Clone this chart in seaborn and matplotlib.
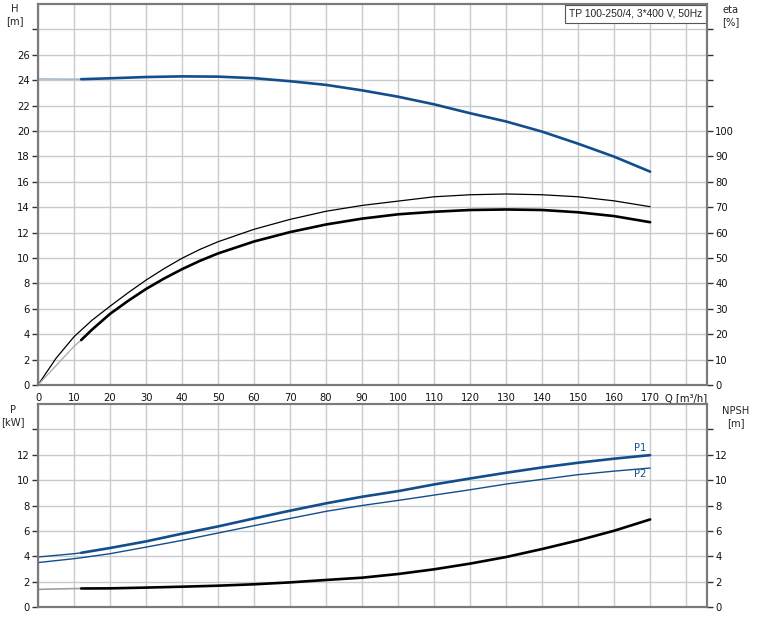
import numpy as np
import pandas as pd
import matplotlib
matplotlib.use("Agg")
import matplotlib.pyplot as plt
import seaborn as sns

# flow rate grid [m3/h]
q = [12, 20, 30, 40, 50, 60, 70, 80, 90, 100, 110, 120, 130, 140, 150, 160, 170]
q_start = [0, 10, 12]

# head H [m]
h_start = [24.1, 24.08, 24.08]
h = [24.08, 24.15, 24.25, 24.3, 24.28, 24.16, 23.92, 23.63, 23.2, 22.7,
     22.1, 21.4, 20.75, 19.95, 19.0, 17.98, 16.8]

# efficiency eta [%]  (upper thin curve and lower thick curve)
q_eta_up = [0, 5, 10, 15, 20, 25, 30, 35, 40, 45, 50, 60, 70, 80, 90, 100,
            110, 120, 130, 140, 150, 160, 170]
eta_up = [0, 10.5, 19, 25.5, 31, 36.3, 41.3, 45.8, 49.9, 53.4, 56.4, 61.3, 65.2,
          68.4, 70.7, 72.4, 74.1, 74.9, 75.2, 74.9, 74.1, 72.5, 70.2]
q_eta = [12, 15, 20, 25, 30, 35, 40, 45, 50, 60, 70, 80, 90, 100, 110, 120,
         130, 140, 150, 160, 170]
eta_start = [0, 15.2, 17.7]
eta = [17.7, 21.8, 28, 33.1, 37.8, 41.9, 45.6, 48.9, 51.8, 56.5, 60.2, 63.2,
       65.5, 67.2, 68.2, 68.9, 69.1, 68.9, 68.0, 66.5, 64.1]

# power P1, P2 [kW]
p1_start = [3.94, 4.2, 4.27]
p1 = [4.27, 4.65, 5.17, 5.78, 6.35, 6.98, 7.59, 8.17, 8.69, 9.13, 9.66,
      10.13, 10.58, 11.0, 11.37, 11.69, 11.97]
q_p2 = [0, 10] + q
p2 = [3.5, 3.81, 3.88, 4.2, 4.72, 5.25, 5.83, 6.41, 6.98, 7.54, 8.0, 8.4, 8.82,
      9.24, 9.69, 10.06, 10.43, 10.71, 10.95]

# NPSH [m]
npsh_start = [1.39, 1.45, 1.46]
npsh = [1.46, 1.47, 1.53, 1.6, 1.68, 1.79, 1.94, 2.13, 2.31, 2.6, 2.97,
        3.42, 3.94, 4.57, 5.25, 6.01, 6.9]

blue = "#124e8c"
grid_c = "#c8cbce"
spine_c = "#7a7a7a"
fs = 7.2

sns.set_style("white")
plt.rcParams["font.family"] = ["DejaVu Sans"]

fig = plt.figure(figsize=(7.59, 6.24), dpi=100)
ax = fig.add_axes([38/759, 1-385/624, 669/759, 381/624])
axb = fig.add_axes([38/759, 1-607/624, 669/759, 203/624])
ax2 = ax.twinx()
axb2 = axb.twinx()

xlim = (0, 185.8)

def style(a, ymax, yticks, ylabels):
    a.set_xlim(*xlim)
    a.set_ylim(0, ymax)
    a.set_xticks(np.arange(0, 190, 10))
    a.set_yticks(yticks)
    a.set_yticklabels(ylabels)
    a.tick_params(axis="both", direction="out", length=4, width=1,
                  color="#333333", labelsize=fs, pad=2, labelcolor="#111111")
    for s in a.spines.values():
        s.set_color(spine_c)
        s.set_linewidth(1.5)
    a.set_xlabel("")
    a.set_ylabel("")

# top panel
ax.grid(True, color=grid_c, linewidth=1)
ax.set_axisbelow(True)
sns.lineplot(x=q_start, y=h_start, ax=ax, color="#a8b8cc", linewidth=1.2)
sns.lineplot(x=q, y=h, ax=ax, color=blue, linewidth=1.9)
style(ax, 30, np.arange(0, 30, 2),
      [str(v) if v <= 26 else "" for v in range(0, 30, 2)])
ax.set_xticklabels([str(v) for v in range(0, 180, 10)] + ["Q [m\u00b3/h]"])

sns.lineplot(x=q_eta_up, y=eta_up, ax=ax2, color="black", linewidth=0.9)
sns.lineplot(x=q_start, y=eta_start, ax=ax2, color="#b0b0b0", linewidth=1.0)
sns.lineplot(x=q_eta, y=eta, ax=ax2, color="black", linewidth=1.9)
style(ax2, 150, np.arange(0, 150, 10),
      [str(v) if v <= 100 else "" for v in range(0, 150, 10)])
ax2.grid(False)

ax.annotate("TP 100-250/4, 3*400 V, 50Hz", xy=(1.0, 1.0), xycoords="axes fraction",
            xytext=(-3.5, -3.5), textcoords="offset points",
            ha="right", va="top", fontsize=7.4, zorder=10, family="Liberation Sans",
            bbox=dict(boxstyle="square,pad=0.4", fc="white", ec="#555555", lw=0.8))

# bottom panel
axb.grid(True, color=grid_c, linewidth=1)
axb.set_axisbelow(True)
sns.lineplot(x=q_start, y=p1_start, ax=axb, color=blue, linewidth=1.0)
sns.lineplot(x=q, y=p1, ax=axb, color=blue, linewidth=1.9)
sns.lineplot(x=q_p2, y=p2, ax=axb, color=blue, linewidth=1.0)
sns.lineplot(x=q_start, y=npsh_start, ax=axb, color="#a0a0a0", linewidth=1.2)
sns.lineplot(x=q, y=npsh, ax=axb, color="black", linewidth=1.9)
style(axb, 16, np.arange(0, 16, 2),
      [str(v) if v <= 12 else "" for v in range(0, 16, 2)])
axb.set_xticklabels([])
axb.text(167.2, 12.5, "P1", ha="center", va="center", fontsize=fs, color=blue)
axb.text(167.2, 10.45, "P2", ha="center", va="center", fontsize=fs, color=blue)

style(axb2, 16, np.arange(0, 16, 2),
      [str(v) if v <= 12 else "" for v in range(0, 16, 2)])
axb2.grid(False)

# axis titles
fig.text(15/759, 1-15/624, "H\n[m]", ha="center", va="center", fontsize=fs, linespacing=1.3)
fig.text(731/759, 1-16/624, "eta\n[%]", ha="center", va="center", fontsize=fs, linespacing=1.3)
fig.text(13/759, 1-416/624, "P\n[kW]", ha="center", va="center", fontsize=fs, linespacing=1.3)
fig.text(736/759, 1-417/624, "NPSH\n[m]", ha="center", va="center", fontsize=fs, linespacing=1.3)

fig.savefig("out.png", dpi=100)
